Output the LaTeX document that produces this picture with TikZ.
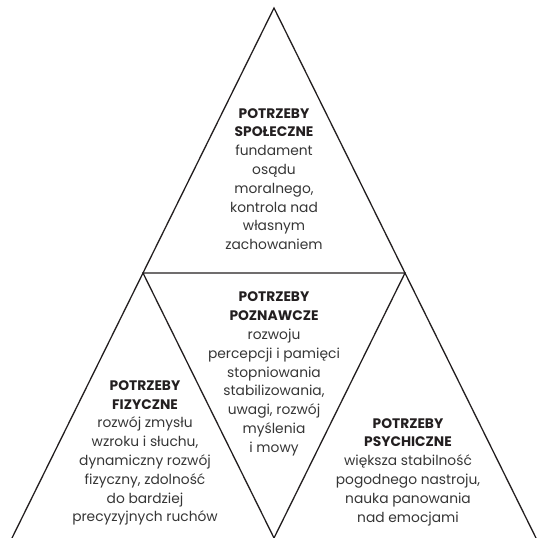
\documentclass[tikz,border=0pt]{standalone}
\usepackage{fontspec}
\setmainfont{Poppins}
\usepackage{tikz}
\usetikzlibrary{positioning}
\definecolor{inkline}{HTML}{231F20}
\definecolor{inktext}{HTML}{363636}
\newcommand{\needhead}[1]{{\color{inkline}\bfseries #1}}
\tikzset{
        pyramid/.style={draw=inkline, line width=1.3pt, line join=miter},
        needtext/.style={align=center, text=inktext, inner sep=0pt,
            font=\fontsize{13.8}{18.8}\selectfont},
    }

\begin{document}
\begin{tikzpicture}[x = 1pt, y = 1pt]
                \useasboundingbox (0,0) rectangle (537,538);
                \coordinate (apex) at (274,530);
                \coordinate (baseL) at (12,0);
                \coordinate (baseR) at (536,0);
                \coordinate (midL) at (143,265);
                \coordinate (midR) at (405,265);
                \coordinate (baseM) at (274,0);
                \draw[pyramid] (baseL) -- (apex) -- (baseR);
                \draw[pyramid] (midL) -- (midR) -- (baseM) -- cycle;
                \node[needtext] (social) at (274,359)
                    {\needhead{POTRZEBY}\\\needhead{SPOŁECZNE}\\fundament\\osądu\\moralnego,\\kontrola nad\\własnym\\zachowaniem};
                \node[needtext] (cognitive) at (274,164)
                    {\needhead{POTRZEBY}\\\needhead{POZNAWCZE}\\rozwoju\\percepcji i pamięci\\stopniowania\\stabilizowania,\\uwagi, rozwój\\myślenia\\i mowy};
                \node[needtext] (physical) at (145,85)
                    {\needhead{POTRZEBY}\\\needhead{FIZYCZNE}\\rozwój zmysłu\\wzroku i słuchu,\\dynamiczny rozwój\\fizyczny, zdolność\\do bardziej\\precyzyjnych ruchów};
                \node[needtext] (mental) at (408,66)
                    {\needhead{POTRZEBY}\\\needhead{PSYCHICZNE}\\większa stabilność\\pogodnego nastroju,\\nauka panowania\\nad emocjami};
            \end{tikzpicture}
\end{document}
